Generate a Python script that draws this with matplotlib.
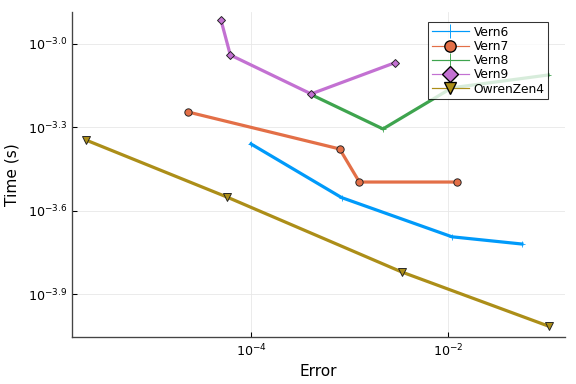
import numpy as np
import matplotlib
matplotlib.use("Agg")
import matplotlib.pyplot as plt
from matplotlib.lines import Line2D

# log10 of error and time
names = ["Vern6", "Vern7", "Vern8", "Vern9", "OwrenZen4"]
vern6_err = [-4.00, -3.08, -1.96, -1.25]
vern6_time = [-3.360, -3.553, -3.694, -3.720]
vern7_err = [-4.64, -3.10, -2.90, -1.91]
vern7_time = [-3.245, -3.378, -3.497, -3.497]
vern8_err = [-3.38, -2.66, -1.96, -0.985]
vern8_time = [-3.184, -3.306, -3.158, -3.112]
vern9_err = [-4.305, -4.21, -3.39, -2.54]
vern9_time = [-2.914, -3.040, -3.180, -3.068]
owren_err = [-5.675, -4.244, -2.467, -0.975]
owren_time = [-3.346, -3.551, -3.821, -4.016]

colors = ["#009AFA", "#E36F47", "#3EA44E", "#C371D2", "#AC8E18"]
markers = ["+", "o", "+", "D", "v"]
msizes = [5, 5.5, 5, 4.5, 6]

series = [(vern6_err, vern6_time), (vern7_err, vern7_time), (vern8_err, vern8_time),
          (vern9_err, vern9_time), (owren_err, owren_time)]

fig = plt.figure(figsize=(6, 4), dpi=96)
ax = fig.add_axes([0.125, 0.122, 0.856, 0.847])

handles = []
for (e, t), name, c, m, ms in zip(series, names, colors, markers, msizes):
    x = 10 ** np.array(e)
    y = 10 ** np.array(t)
    plus = m == "+"
    ax.plot(x, y, color=c, lw=2.4, marker=m, ms=ms, mec=c if plus else "#222222",
            mew=0.6 if plus else 0.7, mfc=c, zorder=3)
    handles.append(Line2D([], [], color=c, lw=0.9, marker=m, ms=(10 if plus else 8.5),
                          mfc=c, mec=c if plus else "black", mew=0.7 if plus else 1.0,
                          label=name))

ax.set_xscale("log")
ax.set_yscale("log")
ax.set_xlim(10 ** -5.817, 10 ** -0.812)
ax.set_ylim(10 ** -4.055, 10 ** -2.885)

ytick_exp = [-3.0, -3.3, -3.6, -3.9]
ax.set_yticks([10 ** v for v in ytick_exp])
ax.set_yticklabels([r"$10^{%.1f}$" % v for v in ytick_exp])
ax.yaxis.set_minor_locator(matplotlib.ticker.NullLocator())
xtick_exp = [-4, -2]
ax.set_xticks([10.0 ** v for v in xtick_exp])
ax.set_xticklabels([r"$10^{%d}$" % v for v in xtick_exp])
ax.xaxis.set_minor_locator(matplotlib.ticker.NullLocator())

ax.tick_params(direction="in", length=4, width=0.8, labelsize=9.5, colors="black", pad=4)
ax.grid(True, color="#e6e6e6", lw=0.6)
ax.set_axisbelow(True)
for s in ["top", "right"]:
    ax.spines[s].set_visible(False)
for s in ["left", "bottom"]:
    ax.spines[s].set_color("#444444")
    ax.spines[s].set_linewidth(1.0)

ax.set_xlabel("Error", fontsize=11.5)
ax.set_ylabel("Time (s)", fontsize=11.5, labelpad=6)

leg = ax.legend(handles=handles, loc="upper right", bbox_to_anchor=(0.966, 0.969),
                fontsize=9.2, frameon=True, fancybox=False, edgecolor="black",
                handlelength=3.0, handletextpad=0.4, borderpad=0.3, labelspacing=0.1,
                borderaxespad=0)
leg.get_frame().set_linewidth(0.8)
leg.set_zorder(5)

fig.savefig("out.png", dpi=96)
